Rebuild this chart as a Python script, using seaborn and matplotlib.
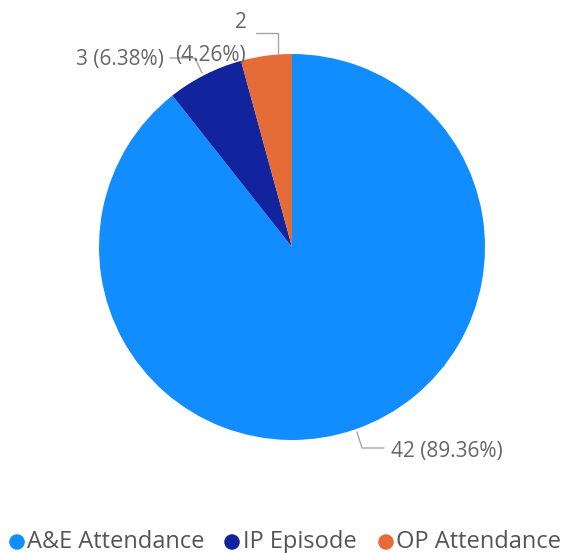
import matplotlib
matplotlib.use("Agg")
import matplotlib.pyplot as plt
import seaborn as sns

categories = ["A&E Attendance", "IP Episode", "OP Attendance"]
counts = [42, 3, 2]
palette = ["#118DFF", "#12239E", "#E66C37"]

sns.set_theme(style="white")
plt.rcParams["font.family"] = ["Open Sans", "DejaVu Sans"]

W, H = 567, 553
fig = plt.figure(figsize=(W / 100, H / 100), dpi=100)
ax = fig.add_axes([0, 0, 1, 1])

cx, cy, r = 292, 247, 193
colors = sns.color_palette(palette)
# y axis is inverted below, so counterclock=True renders clockwise on screen
ax.pie(counts, colors=colors, startangle=-90, counterclock=True,
       center=(cx, cy), radius=r, frame=True,
       wedgeprops=dict(linewidth=0))
ax.set_xlim(0, W)
ax.set_ylim(H, 0)
ax.set_aspect("equal")
ax.axis("off")

total = sum(counts)
pct = [c / total * 100 for c in counts]
label_txt = [f"{c} ({p:.2f}%)" for c, p in zip(counts, pct)]

text_col = "#666666"
line_col = "#A6A6A6"
fs = 15

# A&E label
ax.plot([357, 362, 384], [432, 448, 448], color=line_col, lw=1)
ax.text(391, 451, label_txt[0], color=text_col, fontsize=fs, va="center", ha="left")
# IP label
ax.plot([202, 195, 170], [73, 58, 58], color=line_col, lw=1)
ax.text(164, 60, label_txt[1], color=text_col, fontsize=fs, va="center", ha="right")
# OP label (wrapped over two lines)
ax.plot([278, 278, 256], [54, 33, 33], color=line_col, lw=1)
ax.text(241, 22, f"{counts[2]}", color=text_col, fontsize=fs, va="center", ha="center")
ax.text(211, 55, f"({pct[2]:.2f}%)", color=text_col, fontsize=fs, va="center", ha="center")

# legend row
leg_y = 542
leg_items = [(17, 27), (232, 243), (386, 396)]
for (mx, tx), name, col in zip(leg_items, categories, colors):
    ax.scatter([mx], [leg_y], s=125, color=col, edgecolors="none")
    ax.text(tx, leg_y, name, color="#555555", fontsize=17, va="center", ha="left")

fig.savefig("out.png", dpi=100)
